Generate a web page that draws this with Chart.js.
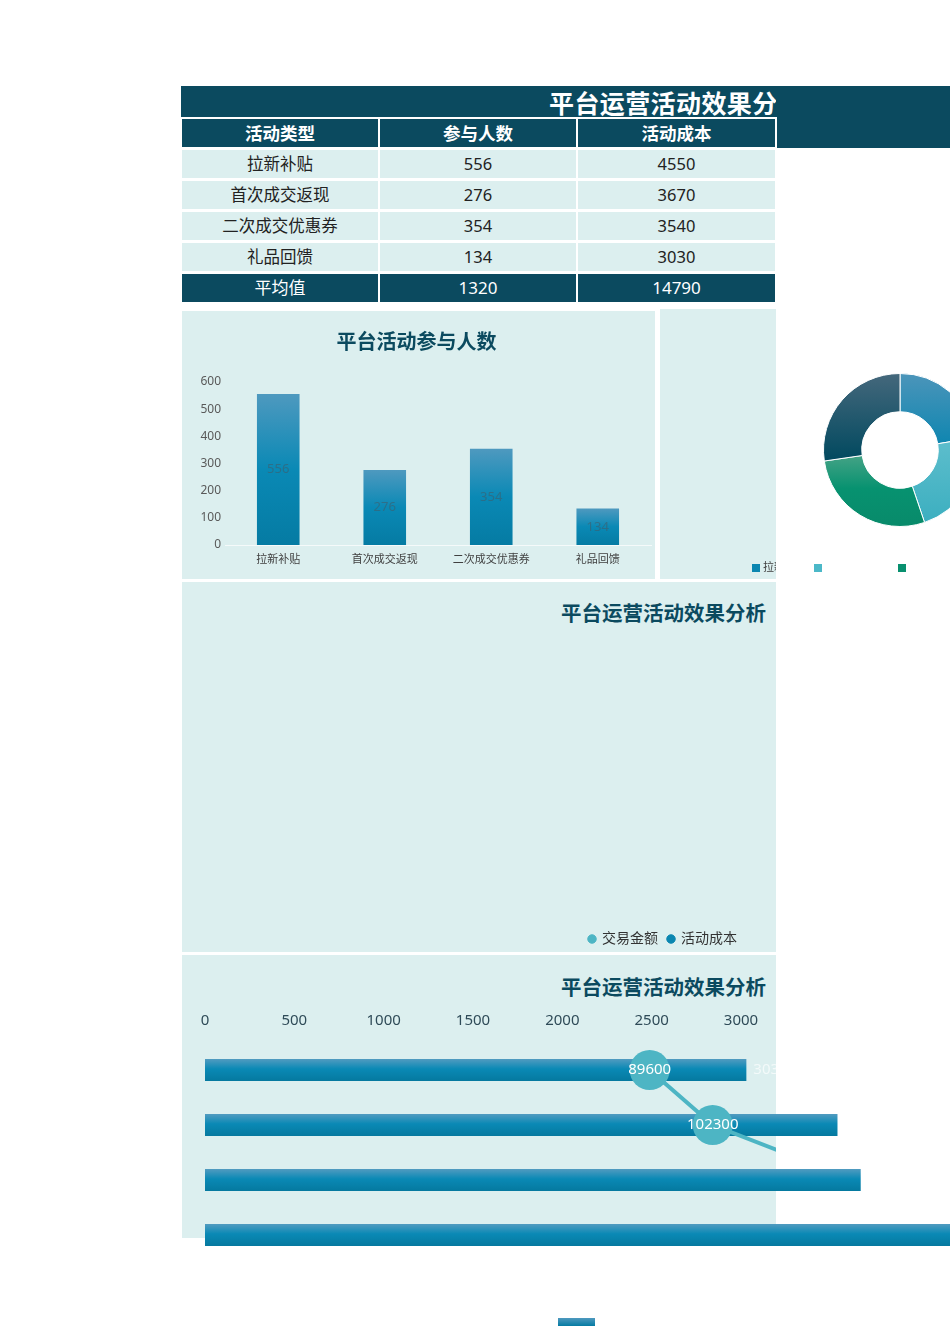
<!DOCTYPE html>
<html lang="zh-CN">
<head>
<meta charset="utf-8">
<title>平台运营活动效果分析</title>
<script src="https://cdn.jsdelivr.net/npm/chart.js@4.4.1/dist/chart.umd.min.js"></script>
<style>
  html, body { margin: 0; padding: 0; background: #fff; }
  body { width: 950px; height: 1344px; position: relative; overflow: hidden;
         font-family: "Noto Sans", "Noto Sans CJK SC", sans-serif; }
  .abs { position: absolute; }
  .navy { background: #0b4a5f; }
  .panel { background: #dcefef; }
  .bigTitle { left: 549px; top: 86px; width: 227px; height: 31px; overflow: hidden; white-space: nowrap;
              color: #fff; font-weight: bold; font-size: 25px; letter-spacing: 0.4px; line-height: 34px; }
  .panelTitle { left: 182px; width: 584px; text-align: right; color: #0b4a5f; font-weight: bold;
                font-size: 20.5px; line-height: 26px; }
  #dataTable { left: 180px; top: 116px; border-collapse: separate; border-spacing: 2px 3px; }
  #dataTable td { height: 28px; padding: 0; text-align: center; font-size: 16.5px; line-height: 28px;
                  background: #dcefef; color: #222; }
  #dataTable tr.head td { background: #0b4a5f; color: #fff; font-weight: bold; font-size: 17.5px; }
  #dataTable tr.foot td { background: #0b4a5f; color: #fff; font-size: 17px; }
  .box { position: absolute; }
</style>
</head>
<body>
<div class="abs navy" style="left:181px;top:86px;width:769px;height:31px;"></div>
<div class="abs navy" style="left:777px;top:86px;width:173px;height:62px;"></div>
<div class="abs bigTitle">平台运营活动效果分析</div>
<table id="dataTable" class="abs"></table>

<div class="abs panel" style="left:182px;top:311px;width:473px;height:268px;"></div>
<div class="abs panel" style="left:660px;top:309px;width:116px;height:270px;"></div>
<div class="abs panel" style="left:182px;top:582px;width:594px;height:370px;"></div>
<div class="abs panel" style="left:182px;top:955px;width:594px;height:283px;"></div>
<div class="abs panelTitle" style="top:600px;">平台运营活动效果分析</div>
<div class="abs panelTitle" style="top:974px;">平台运营活动效果分析</div>

<div class="box" style="left:182px;top:311px;width:473px;height:268px;"><canvas id="peopleChart"></canvas></div>
<div class="box" style="left:660px;top:309px;width:480px;height:282px;"><canvas id="shareChart"></canvas></div>
<div class="box" style="left:182px;top:582px;width:594px;height:374px;"><canvas id="emptyChart"></canvas></div>
<div class="box" style="left:182px;top:995px;width:946px;height:345px;"><canvas id="comboChart"></canvas></div>

<script>
// ---- data ----
const categories = ['拉新补贴', '首次成交返现', '二次成交优惠券', '礼品回馈'];
const tableHeader = ['活动类型', '参与人数', '活动成本'];
const participants = [556, 276, 354, 134];
const activityCost = [4550, 3670, 3540, 3030];
const summaryRow = ['平均值', 1320, 14790];
// 交易金额: last two read from labels, the others estimated from the line direction
const tradeAmount = [148000, 130700, 102300, 89600];
// doughnut slice sizes (%)
const donutShare = [22.4, 22.4, 27.9, 27.3];
const peopleTicks = { min: 0, max: 600, step: 100 };
const costTicks = { min: 0, max: 5000, step: 500 };
const tradeRange = { min: 0, max: 180000 };

Chart.defaults.font.family = '"Noto Sans", "Noto Sans CJK SC", sans-serif';
Chart.defaults.animation = false;

const NAVY = '#0b4a5f';
const PANEL_RIGHT = 776; // page x where the light panels stop and text gets cut

// ---- table ----
const table = document.getElementById('dataTable');
function addRow(cells, cls) {
    const tr = document.createElement('tr');
    if (cls) tr.className = cls;
    cells.forEach((c, i) => {
        const td = document.createElement('td');
        td.textContent = c;
        td.style.width = (i === 2 ? 197 : 196) + 'px';
        tr.appendChild(td);
    });
    table.appendChild(tr);
}
addRow(tableHeader, 'head');
categories.forEach((c, i) => addRow([c, participants[i], activityCost[i]]));
addRow(summaryRow, 'foot');

// ---- helpers ----
function columnFill(context) {
    const chart = context.chart;
    const area = chart.chartArea;
    if (!area || context.raw === undefined) return '#0a86b0';
    const top = chart.scales.y.getPixelForValue(context.raw);
    const g = chart.ctx.createLinearGradient(0, top, 0, area.bottom);
    g.addColorStop(0, '#4e99bf');
    g.addColorStop(0.5, '#0a89b5');
    g.addColorStop(1, '#057ba3');
    return g;
}

function rowFill(context) {
    const chart = context.chart;
    const area = chart.chartArea;
    if (!area || context.dataIndex === undefined) return '#0a86b0';
    const y = chart.scales.y.getPixelForValue(context.dataIndex);
    const half = area.height / chart.data.labels.length * 0.2;
    const g = chart.ctx.createLinearGradient(0, y - half, 0, y + half);
    g.addColorStop(0, '#519bc0');
    g.addColorStop(0.45, '#0a89b5');
    g.addColorStop(1, '#05799f');
    return g;
}

const sliceStops = [
    [[0, '#4c95ba'], [0.55, '#0383ae']],
    [[0.45, '#5cbdcc'], [1, '#3aaebf']],
    [[0.5, '#4ea589'], [0.75, '#079270'], [1, '#088a6a']],
    [[0, '#45687c'], [0.55, '#034a60']]
];
const sliceSolid = ['#0a86b0', '#4bb8c8', '#08906f', '#0b4a5f'];

function sliceFill(context) {
    const chart = context.chart;
    const area = chart.chartArea;
    const i = context.dataIndex;
    if (!area || i === undefined) return sliceSolid[0];
    const g = chart.ctx.createLinearGradient(0, area.top, 0, area.bottom);
    sliceStops[i].forEach(s => g.addColorStop(s[0], s[1]));
    return g;
}

function clipToPanel(chart, right) {
    chart.ctx.beginPath();
    chart.ctx.rect(0, 0, right, chart.height);
    chart.ctx.clip();
}

// ---- plugins ----
const centerLabels = {
    id: 'centerLabels',
    afterDatasetsDraw(chart, args, opts) {
        const ctx = chart.ctx;
        const values = chart.data.datasets[0].data;
        ctx.save();
        ctx.font = '13px "Noto Sans"';
        ctx.fillStyle = opts.color;
        ctx.textAlign = 'center';
        ctx.textBaseline = 'middle';
        chart.getDatasetMeta(0).data.forEach((bar, i) => {
            ctx.fillText(values[i], bar.x, (bar.y + bar.base) / 2);
        });
        ctx.restore();
    }
};

const donutLegend = {
    id: 'donutLegend',
    afterDraw(chart, args, opts) {
        const ctx = chart.ctx;
        const labels = chart.data.labels;
        ctx.save();
        ctx.font = '11px "Noto Sans", "Noto Sans CJK SC"';
        ctx.textBaseline = 'middle';
        const widths = labels.map(l => 11 + ctx.measureText(l).width + 7);
        const total = widths.reduce((a, b) => a + b, 0) - 7;
        let x = (chart.chartArea.left + chart.chartArea.right) / 2 - total / 2;
        labels.forEach((label, i) => {
            ctx.fillStyle = sliceSolid[i];
            ctx.fillRect(x, opts.y - 4, 8, 8);
            ctx.save();
            clipToPanel(chart, opts.clipRight);
            ctx.fillStyle = '#404040';
            ctx.fillText(label, x + 11, opts.y);
            ctx.restore();
            x += widths[i];
        });
        ctx.restore();
    }
};

const comboExtras = {
    id: 'comboExtras',
    beforeDraw(chart, args, opts) {
        // axis text is cut by the panel edge
        chart.ctx.save();
        clipToPanel(chart, opts.clipRight);
    },
    beforeDatasetsDraw(chart) {
        chart.ctx.restore();
    },
    beforeDatasetDraw(chart, args, opts) {
        // the line is cut by the panel edge too, the bars are not
        if (chart.data.datasets[args.index].type === 'line') {
            chart.ctx.save();
            clipToPanel(chart, opts.clipRight);
        }
    },
    afterDatasetDraw(chart, args) {
        if (chart.data.datasets[args.index].type === 'line') chart.ctx.restore();
    },
    afterDatasetsDraw(chart, args, opts) {
        const ctx = chart.ctx;
        ctx.save();
        clipToPanel(chart, opts.clipRight);
        ctx.font = '15px "Noto Sans"';
        ctx.textBaseline = 'middle';
        ctx.fillStyle = 'rgba(255,255,255,0.65)';
        ctx.textAlign = 'left';
        chart.getDatasetMeta(1).data.forEach((bar, i) => {
            ctx.fillText(chart.data.datasets[1].data[i], bar.x + 7, bar.y);
        });
        ctx.fillStyle = '#ffffff';
        ctx.textAlign = 'center';
        chart.getDatasetMeta(0).data.forEach((pt, i) => {
            ctx.fillText(chart.data.datasets[0].data[i], pt.x, pt.y);
        });
        ctx.restore();
    },
    afterDraw(chart, args, opts) {
        // lone legend swatch left below the chart
        const ctx = chart.ctx;
        const y = chart.height - opts.swatchBottom;
        const g = ctx.createLinearGradient(0, y, 0, y + 8);
        g.addColorStop(0, '#4e99bf');
        g.addColorStop(1, '#057ba3');
        ctx.fillStyle = g;
        ctx.fillRect(opts.swatchX, y, 37, 8);
    }
};

// ---- 平台活动参与人数 ----
new Chart(document.getElementById('peopleChart'), {
    type: 'bar',
    data: {
        labels: categories,
        datasets: [{
            label: '参与人数',
            data: participants,
            backgroundColor: columnFill,
            barPercentage: 0.5,
            categoryPercentage: 0.8
        }]
    },
    options: {
        responsive: true,
        maintainAspectRatio: false,
        layout: { padding: { left: 0, right: 4, top: 0, bottom: 0 } },
        plugins: {
            legend: { display: false },
            tooltip: { enabled: false },
            title: {
                display: true,
                text: '平台活动参与人数',
                color: NAVY,
                font: { size: 20, weight: 'bold' },
                padding: { top: 20, bottom: 27 }
            },
            centerLabels: { color: 'rgba(70,90,100,0.55)' }
        },
        scales: {
            y: {
                min: peopleTicks.min,
                max: peopleTicks.max,
                ticks: { stepSize: peopleTicks.step, color: '#595959', font: { size: 12 }, padding: 4 },
                grid: { display: false, drawTicks: false },
                border: { display: false },
                afterFit: s => { s.width = 43; }
            },
            x: {
                ticks: { color: '#404040', font: { size: 11 }, padding: 8 },
                grid: { display: false, drawTicks: false },
                border: { display: true, color: 'rgba(255,255,255,0.7)', width: 1 },
                afterFit: s => { s.height = 34; }
            }
        }
    },
    plugins: [centerLabels]
});

// ---- doughnut ----
new Chart(document.getElementById('shareChart'), {
    type: 'doughnut',
    data: {
        labels: categories,
        datasets: [{
            data: donutShare,
            backgroundColor: sliceFill,
            borderColor: '#ffffff',
            borderWidth: 1
        }]
    },
    options: {
        responsive: true,
        maintainAspectRatio: false,
        cutout: '50%',
        layout: { padding: { left: 163, right: 163, top: 64, bottom: 64 } },
        plugins: {
            legend: { display: false },
            tooltip: { enabled: false },
            donutLegend: { y: 259, clipRight: PANEL_RIGHT - 660 }
        }
    },
    plugins: [donutLegend]
});

// ---- middle panel: only its legend is visible ----
new Chart(document.getElementById('emptyChart'), {
    type: 'line',
    data: {
        labels: [],
        datasets: [
            { label: '交易金额', data: [], backgroundColor: '#4db5c4', borderColor: '#4db5c4', pointStyle: 'circle' },
            { label: '活动成本', data: [], backgroundColor: '#0a86b0', borderColor: '#0a86b0', pointStyle: 'circle' }
        ]
    },
    options: {
        responsive: true,
        maintainAspectRatio: false,
        layout: { padding: { right: 29 } },
        scales: { x: { display: false }, y: { display: false } },
        plugins: {
            tooltip: { enabled: false },
            legend: {
                position: 'bottom',
                align: 'end',
                labels: {
                    usePointStyle: true,
                    boxWidth: 6,
                    boxHeight: 6,
                    color: '#333333',
                    font: { size: 14 }
                }
            }
        }
    }
});

// ---- 平台运营活动效果分析: cost bars + trade amount line ----
new Chart(document.getElementById('comboChart'), {
    type: 'bar',
    data: {
        labels: categories,
        datasets: [
            {
                type: 'line',
                label: '交易金额',
                data: tradeAmount,
                indexAxis: 'y',
                xAxisID: 'x2',
                yAxisID: 'y',
                borderColor: '#4db5c4',
                borderWidth: 4,
                pointRadius: 20,
                pointBackgroundColor: '#4db5c4',
                pointBorderWidth: 0,
                order: 0,
                clip: false
            },
            {
                label: '活动成本',
                data: activityCost,
                backgroundColor: rowFill,
                barPercentage: 0.5,
                categoryPercentage: 0.8,
                order: 1,
                clip: false
            }
        ]
    },
    options: {
        indexAxis: 'y',
        responsive: true,
        maintainAspectRatio: false,
        layout: { padding: { left: 23, right: 13, top: 0, bottom: 77.5 } },
        scales: {
            x: {
                position: 'top',
                min: costTicks.min,
                max: costTicks.max,
                ticks: {
                    stepSize: costTicks.step,
                    padding: 12.5,
                    color: '#2f4b58',
                    font: { size: 15 },
                    maxRotation: 0,
                    callback: v => String(v)
                },
                grid: { display: false, drawTicks: false },
                border: { display: false },
                afterFit: s => { s.height = 47.5; }
            },
            x2: {
                position: 'top',
                display: false,
                min: tradeRange.min,
                max: tradeRange.max
            },
            y: {
                reverse: true,
                display: false
            }
        },
        plugins: {
            legend: { display: false },
            tooltip: { enabled: false },
            comboExtras: { clipRight: PANEL_RIGHT - 182, swatchX: 376, swatchBottom: 22 }
        }
    },
    plugins: [comboExtras]
});
</script>
</body>
</html>
